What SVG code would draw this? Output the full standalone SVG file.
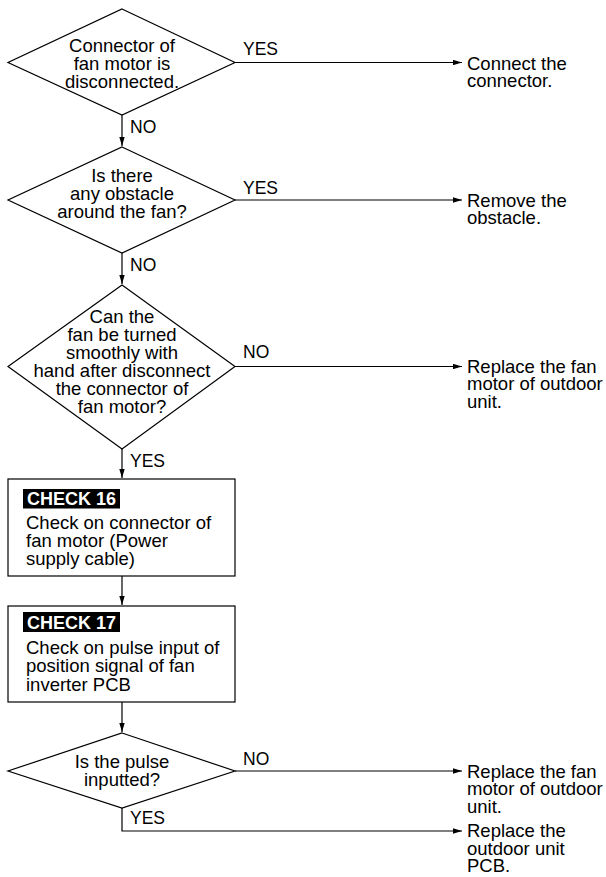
<svg xmlns="http://www.w3.org/2000/svg" width="606" height="877" viewBox="0 0 606 877">
<style>
.s{fill:#fff;stroke:#000;stroke-width:1.2}
.t{font-family:"Liberation Sans",Arial,sans-serif;font-size:18.5px;fill:#000}
.c{text-anchor:middle}
.l{font-family:"Liberation Sans",Arial,sans-serif;font-size:17.5px;fill:#000}
.k{font-family:"Liberation Sans",Arial,sans-serif;font-size:18px;font-weight:bold;fill:#fff}
.e{fill:none;stroke:#000;stroke-width:1.2}
</style>
<defs>
<marker id="a" markerUnits="userSpaceOnUse" viewBox="0 0 10 6" refX="10" refY="3" markerWidth="9" markerHeight="5.4" orient="auto">
<path d="M0,0L10,3L0,6z" fill="#000"/>
</marker>
</defs>
<rect width="606" height="877" fill="#fff"/>
<g id="connectors">
<path class="e" d="M122,115V146" marker-end="url(#a)"/>
<path class="e" d="M122,253V284" marker-end="url(#a)"/>
<path class="e" d="M122,449V478" marker-end="url(#a)"/>
<path class="e" d="M122,576V605" marker-end="url(#a)"/>
<path class="e" d="M122,702V732" marker-end="url(#a)"/>
<path class="e" d="M235,62.5H462" marker-end="url(#a)"/>
<path class="e" d="M235,200H462" marker-end="url(#a)"/>
<path class="e" d="M235,366.5H462" marker-end="url(#a)"/>
<path class="e" d="M235,771H462" marker-end="url(#a)"/>
<path class="e" d="M122,808V831H462" marker-end="url(#a)"/>
<text class="l" x="130" y="133">NO</text>
<text class="l" x="130" y="271">NO</text>
<text class="l" x="130" y="466.5">YES</text>
<text class="l" x="130" y="824">YES</text>
<text class="l" x="243" y="55">YES</text>
<text class="l" x="243" y="194">YES</text>
<text class="l" x="243" y="358">NO</text>
<text class="l" x="243" y="765">NO</text>
</g>
<g id="d1">
<path class="s" d="M122,9L235,62.5L122,115L8,62.5z"/>
<text class="t c" x="122" y="52">Connector of</text>
<text class="t c" x="122" y="70">fan motor is</text>
<text class="t c" x="122" y="88">disconnected.</text>
</g>
<g id="r1">
<text class="t" x="467" y="69.5">Connect the</text>
<text class="t" x="467" y="87">connector.</text>
</g>
<g id="d2">
<path class="s" d="M122,147L235,200L122,253L8,200z"/>
<text class="t c" x="122" y="181.5">Is there</text>
<text class="t c" x="122" y="199.5">any obstacle</text>
<text class="t c" x="122" y="217.5">around the fan?</text>
</g>
<g id="r2">
<text class="t" x="467" y="206.5">Remove the</text>
<text class="t" x="467" y="224">obstacle.</text>
</g>
<g id="d3">
<path class="s" d="M122,285L235,366.5L122,449L8,366.5z"/>
<text class="t c" x="122" y="322.7">Can the</text>
<text class="t c" x="122" y="340.8">fan be turned</text>
<text class="t c" x="122" y="358.9">smoothly with</text>
<text class="t c" x="122" y="377">hand after disconnect</text>
<text class="t c" x="122" y="395.1">the connector of</text>
<text class="t c" x="122" y="413.2">fan motor?</text>
</g>
<g id="r3">
<text class="t" x="467" y="373">Replace the fan</text>
<text class="t" x="467" y="390.4">motor of outdoor</text>
<text class="t" x="467" y="407.8">unit.</text>
</g>
<g id="b1">
<rect class="s" x="8" y="479" width="227" height="97"/>
<rect x="23" y="489" width="97" height="19.5" fill="#000"/>
<text class="k" x="27" y="505">CHECK 16</text>
<text class="t" x="26" y="529.3">Check on connector of</text>
<text class="t" x="26" y="547.2">fan motor (Power</text>
<text class="t" x="26" y="565">supply cable)</text>
</g>
<g id="b2">
<rect class="s" x="8" y="606" width="227" height="96"/>
<rect x="23" y="612" width="97" height="20" fill="#000"/>
<text class="k" x="27" y="628.5">CHECK 17</text>
<text class="t" x="26" y="654">Check on pulse input of</text>
<text class="t" x="26" y="672">position signal of fan</text>
<text class="t" x="26" y="690.5">inverter PCB</text>
</g>
<g id="d4">
<path class="s" d="M122,733L235,771L122,808L8,771z"/>
<text class="t c" x="122" y="767.7">Is the pulse</text>
<text class="t c" x="122" y="786">inputted?</text>
</g>
<g id="r4">
<text class="t" x="467" y="777.5">Replace the fan</text>
<text class="t" x="467" y="795">motor of outdoor</text>
<text class="t" x="467" y="812.5">unit.</text>
</g>
<g id="r5">
<text class="t" x="467" y="837">Replace the</text>
<text class="t" x="467" y="854.5">outdoor unit</text>
<text class="t" x="467" y="872">PCB.</text>
</g>
</svg>
